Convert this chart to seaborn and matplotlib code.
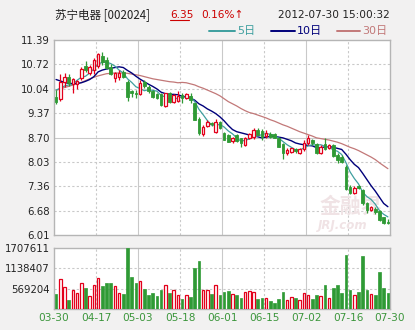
import numpy as np
import pandas as pd
import matplotlib
matplotlib.use("Agg")
import matplotlib.pyplot as plt
from matplotlib.lines import Line2D
import seaborn as sns

# ---------------- data ----------------
date_labels = ["03-30", "04-17", "05-03", "05-18", "06-01", "06-15", "07-02", "07-16", "07-30"]
price_ticks = [6.01, 6.68, 7.36, 8.03, 8.70, 9.37, 10.04, 10.72, 11.39]
price_tick_labels = ["6.01", "6.68", "7.36", "8.03", "8.70", "9.37", "10.04", "10.72", "11.39"]
vol_ticks = [569204, 1138407, 1707611]
vol_tick_labels = ["569204", "1138407", "1707611"]

opens = [9.83, 9.77, 10.22, 10.37, 10.18, 10.17, 10.34, 10.68, 10.47, 10.55,
         10.68, 10.95, 10.85, 10.65, 10.33, 10.36, 10.50, 10.24, 9.97, 9.92,
         9.90, 10.22, 10.10, 9.97, 9.90, 9.90, 9.57, 9.92, 9.69, 9.72,
         9.87, 9.78, 9.84, 9.64, 9.22, 8.80, 9.02, 9.11, 8.86, 9.14,
         8.83, 8.77, 8.61, 8.77, 8.68, 8.49, 8.68, 8.72, 8.91, 8.89,
         8.74, 8.80, 8.79, 8.68, 8.52, 8.26, 8.31, 8.38, 8.26, 8.37,
         8.54, 8.63, 8.52, 8.26, 8.52, 8.40, 8.49, 8.22, 8.17, 7.88,
         7.34, 7.16, 7.36, 7.25, 6.88, 6.70, 6.74, 6.68, 6.50, 6.38]
highs = [10.00, 10.45, 10.48, 10.45, 10.35, 10.30, 10.65, 10.80, 10.70, 10.90,
         11.04, 11.06, 10.92, 10.72, 10.52, 10.56, 10.55, 10.28, 10.02, 10.01,
         10.28, 10.30, 10.15, 10.00, 9.94, 9.93, 9.94, 9.96, 9.90, 9.97,
         9.92, 9.94, 9.92, 9.66, 9.27, 9.04, 9.18, 9.14, 9.20, 9.16,
         8.86, 8.80, 8.72, 8.80, 8.70, 8.72, 8.82, 8.95, 8.95, 8.93,
         8.90, 8.84, 8.82, 8.72, 8.55, 8.40, 8.42, 8.42, 8.42, 8.63,
         8.76, 8.66, 8.56, 8.48, 8.70, 8.52, 8.52, 8.26, 8.22, 7.94,
         7.38, 7.36, 7.40, 7.28, 6.93, 6.82, 6.78, 6.70, 6.52, 6.45]
lows = [9.62, 9.72, 10.10, 10.12, 9.92, 10.05, 10.30, 10.52, 10.42, 10.45,
        10.62, 10.70, 10.58, 10.42, 10.22, 10.30, 10.35, 9.70, 9.82, 9.78,
        9.86, 10.06, 9.92, 9.80, 9.75, 9.58, 9.55, 9.66, 9.66, 9.68,
        9.64, 9.75, 9.64, 9.17, 8.77, 8.74, 8.98, 9.02, 8.83, 8.94,
        8.62, 8.57, 8.55, 8.58, 8.45, 8.47, 8.66, 8.67, 8.76, 8.64,
        8.68, 8.70, 8.68, 8.43, 8.10, 8.22, 8.28, 8.28, 8.24, 8.33,
        8.48, 8.50, 8.25, 8.24, 8.35, 8.38, 8.17, 7.99, 8.00, 7.25,
        7.15, 7.14, 7.28, 6.85, 6.62, 6.66, 6.60, 6.40, 6.31, 6.30]
closes = [9.69, 10.22, 10.38, 10.21, 10.32, 10.27, 10.60, 10.56, 10.65, 10.85,
          11.00, 10.78, 10.63, 10.45, 10.49, 10.47, 10.38, 9.83, 9.92, 9.90,
          10.21, 10.11, 9.97, 9.83, 9.78, 9.60, 9.92, 9.68, 9.87, 9.84,
          9.78, 9.90, 9.73, 9.18, 8.82, 9.00, 9.14, 9.08, 9.14, 8.95,
          8.63, 8.58, 8.68, 8.59, 8.54, 8.70, 8.80, 8.91, 8.77, 8.72,
          8.83, 8.72, 8.70, 8.45, 8.26, 8.35, 8.40, 8.33, 8.39, 8.56,
          8.68, 8.54, 8.28, 8.45, 8.37, 8.49, 8.19, 8.08, 8.03, 7.27,
          7.16, 7.32, 7.30, 6.88, 6.70, 6.77, 6.65, 6.42, 6.34, 6.35]
volumes = [420000, 830000, 606000, 252000, 532000, 457000, 718000, 578000, 364000, 672000,
           858000, 644000, 737000, 737000, 644000, 438000, 420000, 1707611, 905000, 718000,
           774000, 560000, 392000, 457000, 364000, 532000, 672000, 438000, 532000, 392000,
           280000, 392000, 345000, 1138000, 1343000, 532000, 532000, 420000, 672000, 392000,
           485000, 504000, 420000, 392000, 299000, 485000, 504000, 485000, 280000, 299000,
           299000, 224000, 177000, 270000, 467000, 252000, 345000, 299000, 252000, 438000,
           392000, 270000, 392000, 364000, 672000, 299000, 578000, 672000, 438000, 1512000,
           532000, 392000, 485000, 1483000, 532000, 410000, 392000, 1026000, 578000, 457000]
ma5 = [10.01, 10.06, 10.12, 10.15, 10.16, 10.28, 10.36, 10.39, 10.48, 10.59,
       10.73, 10.77, 10.78, 10.74, 10.67, 10.56, 10.48, 10.32, 10.22, 10.10,
       10.05, 9.99, 10.02, 10.00, 9.98, 9.86, 9.82, 9.76, 9.77, 9.78,
       9.82, 9.81, 9.82, 9.69, 9.48, 9.33, 9.17, 9.04, 9.04, 9.06,
       8.99, 8.88, 8.80, 8.69, 8.60, 8.62, 8.66, 8.71, 8.74, 8.78,
       8.81, 8.79, 8.75, 8.68, 8.59, 8.50, 8.43, 8.36, 8.35, 8.41,
       8.47, 8.50, 8.49, 8.50, 8.46, 8.43, 8.36, 8.32, 8.23, 8.01,
       7.75, 7.57, 7.42, 7.19, 7.07, 6.99, 6.86, 6.68, 6.58, 6.51]
ma10 = [10.30, 10.26, 10.22, 10.19, 10.19, 10.19, 10.21, 10.25, 10.30, 10.38,
        10.51, 10.56, 10.59, 10.61, 10.63, 10.65, 10.63, 10.55, 10.48, 10.39,
        10.31, 10.24, 10.17, 10.11, 10.04, 9.95, 9.91, 9.89, 9.89, 9.88,
        9.84, 9.82, 9.79, 9.73, 9.63, 9.57, 9.49, 9.43, 9.36, 9.27,
        9.16, 9.03, 8.92, 8.86, 8.83, 8.80, 8.77, 8.75, 8.72, 8.69,
        8.71, 8.73, 8.73, 8.71, 8.69, 8.65, 8.61, 8.55, 8.52, 8.50,
        8.48, 8.47, 8.42, 8.42, 8.44, 8.45, 8.43, 8.40, 8.37, 8.24,
        8.09, 7.96, 7.87, 7.71, 7.54, 7.37, 7.22, 7.05, 6.88, 6.79]
ma30 = [10.00, 10.04, 10.08, 10.11, 10.15, 10.18, 10.22, 10.27, 10.32, 10.36,
        10.40, 10.43, 10.46, 10.47, 10.48, 10.48, 10.48, 10.47, 10.45, 10.43,
        10.41, 10.38, 10.35, 10.32, 10.30, 10.28, 10.26, 10.24, 10.23, 10.21,
        10.22, 10.21, 10.18, 10.15, 10.10, 10.06, 10.01, 9.96, 9.91, 9.85,
        9.77, 9.69, 9.63, 9.57, 9.50, 9.44, 9.39, 9.36, 9.32, 9.28,
        9.24, 9.19, 9.15, 9.10, 9.05, 9.01, 8.96, 8.91, 8.86, 8.82,
        8.78, 8.74, 8.69, 8.67, 8.65, 8.63, 8.60, 8.57, 8.53, 8.48,
        8.43, 8.39, 8.34, 8.28, 8.22, 8.16, 8.09, 8.00, 7.92, 7.84]

# ---------------- style ----------------
sns.set_style("white")
plt.rcParams['font.family'] = ['DejaVu Sans', 'Noto Sans CJK SC']

BG = '#f2f1f1'
RED = '#e3001b'
GREEN = '#2f9a35'
TEAL = '#3f9f9f'
NAVY = '#00007a'
ROSE = '#c27878'
GRID = '#c9c9c9'
SPINE = '#b5b5b5'

W, H = 415, 330
fig = plt.figure(figsize=(W / 100, H / 100), dpi=100, facecolor=BG)

def fx(px):
    return px / W

def fy(py):
    return 1 - py / H

ax = fig.add_axes([fx(54), fy(235), fx(390) - fx(54), fy(40) - fy(235)])
axv = fig.add_axes([fx(54), fy(309), fx(390) - fx(54), fy(248) - fy(309)])

df = pd.DataFrame({"i": np.arange(len(closes)), "open": opens, "high": highs,
                   "low": lows, "close": closes, "volume": volumes,
                   "ma5": ma5, "ma10": ma10, "ma30": ma30})
df["up"] = df["close"] >= df["open"]
n = len(df)

for a in (ax, axv):
    a.set_facecolor('white')
    a.set_xlim(-0.5, n - 0.5)
    for s in a.spines.values():
        s.set_color(SPINE)
        s.set_linewidth(1.0)
    # vertical grid: month starts solid, others dashed
    for k in range(1, 8):
        a.axvline(-0.5 + 10 * k, color=GRID, lw=0.8,
                  ls='-' if k % 2 == 0 else (0, (2, 2)), zorder=0)
    a.tick_params(length=0)

# price grid
for j, t in enumerate(price_ticks[1:-1], start=1):
    ax.axhline(t, color=GRID, lw=0.8, ls='-' if j == 4 else (0, (2, 2)), zorder=0)
ax.set_ylim(price_ticks[0], price_ticks[-1])
ax.set_yticks(price_ticks)
ax.set_yticklabels(price_tick_labels, fontsize=7.3, color='#222222')
ax.set_xticks([])
ax.tick_params(axis='y', pad=3)

# MA lines (seaborn)
sns.lineplot(data=df, x="i", y="ma30", ax=ax, color=ROSE, lw=0.9, zorder=2)
sns.lineplot(data=df, x="i", y="ma10", ax=ax, color=NAVY, lw=1.0, zorder=3)
sns.lineplot(data=df, x="i", y="ma5", ax=ax, color=TEAL, lw=0.9, zorder=3)

# candles
bw = 0.62
up = df[df["up"]]
dn = df[~df["up"]]
ax.vlines(dn["i"], dn["low"], dn["high"], color=GREEN, lw=0.9, zorder=4)
ax.vlines(up["i"], up["low"], up["high"], color=RED, lw=0.9, zorder=4)
ax.bar(dn["i"], (dn["open"] - dn["close"]).clip(lower=0.015), bottom=dn["close"],
       width=bw, color=GREEN, edgecolor=GREEN, lw=0.6, zorder=5)
ax.bar(up["i"], (up["close"] - up["open"]).clip(lower=0.015), bottom=up["open"],
       width=bw, color='white', edgecolor=RED, lw=0.9, zorder=5)
ax.set_xlabel("")
ax.set_ylabel("")

# watermark
ax.text(0.885, 0.145, "金融界", transform=ax.transAxes, ha='center', va='center',
        fontsize=15, fontweight='bold', color='#f0e3e5', zorder=1,
        family=['Noto Sans CJK SC'])
ax.text(0.86, 0.05, "JRJ.com", transform=ax.transAxes, ha='center', va='center',
        fontsize=8.5, fontweight='bold', fontstyle='italic', color='#f0e3e5', zorder=1)

# volume
axv.bar(dn["i"], dn["volume"], width=bw, color=GREEN, edgecolor=GREEN, lw=0.5, zorder=3)
axv.bar(up["i"], up["volume"], width=bw, color='white', edgecolor=RED, lw=0.9, zorder=3)
for t in vol_ticks[:-1]:
    axv.axhline(t, color=GRID, lw=0.8, ls=(0, (2, 2)), zorder=0)
axv.set_ylim(0, vol_ticks[-1])
axv.set_yticks(vol_ticks)
axv.set_yticklabels(vol_tick_labels, fontsize=7.3, color='#222222')
axv.set_xticks([-0.5 + 10 * k for k in range(9)])
axv.set_xticklabels(date_labels, fontsize=7.6, color='#3c963c')
axv.tick_params(axis='x', pad=3)
axv.tick_params(axis='y', pad=3)

# header
fig.text(fx(55), fy(15), "苏宁电器 [002024]", fontsize=8.3, color='#222222',
         va='center', ha='left', family=['Noto Sans CJK SC', 'DejaVu Sans'])
fig.text(fx(170), fy(15), "6.35", fontsize=7.6, color='#cc0000', va='center', ha='left')
fig.add_artist(Line2D([fx(170), fx(189)], [fy(20), fy(20)], color='#cc0000', lw=0.8,
                      transform=fig.transFigure))
fig.text(fx(201), fy(15), "0.16%↑", fontsize=7.6, color='#cc0000', va='center', ha='left')
fig.text(fx(390), fy(15), "2012-07-30 15:00:32", fontsize=7.6, color='#222222',
         va='center', ha='right')

# legend
leg = [(209, 235, "5日", TEAL), (271, 295, "10日", NAVY), (337, 360, "30日", ROSE)]
for x0, x1, lab, col in leg:
    fig.add_artist(Line2D([fx(x0), fx(x1)], [fy(31), fy(31)], color=col, lw=1.4,
                          transform=fig.transFigure))
    fig.text(fx(x1 + 2), fy(31), lab, fontsize=8, color=col, va='center', ha='left',
             family=['DejaVu Sans', 'Noto Sans CJK SC'])

fig.savefig("out.png", dpi=100, facecolor=BG)
